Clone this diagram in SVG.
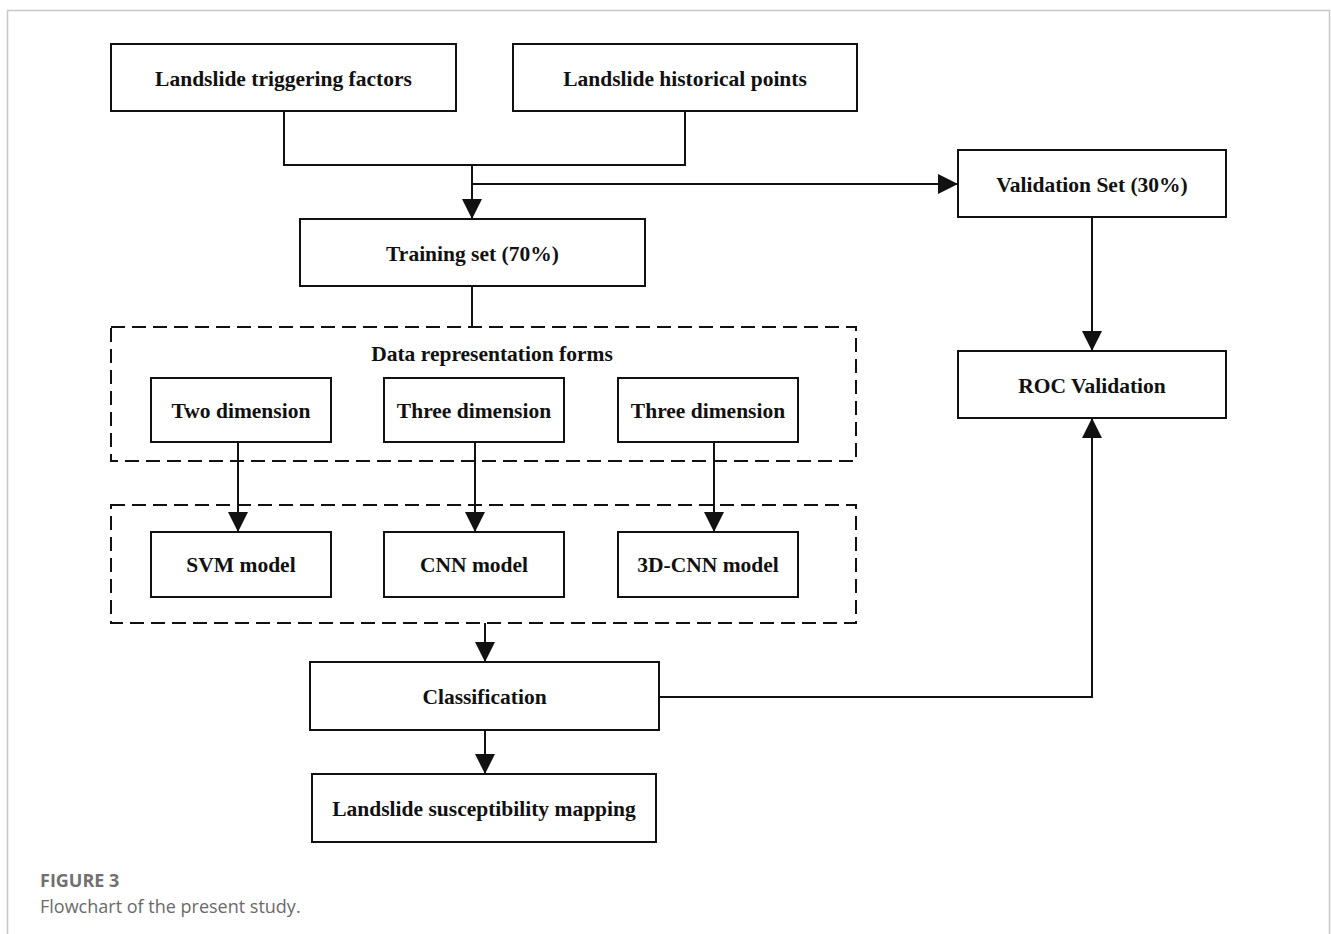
<svg xmlns="http://www.w3.org/2000/svg" width="1331" height="934" viewBox="0 0 1331 934">
<defs>
<style>
.box{fill:#fff;stroke:#111;stroke-width:2}
.dash{fill:none;stroke:#111;stroke-width:2;stroke-dasharray:14 7}
.lbl{font-family:"Liberation Serif","Times New Roman",serif;font-weight:bold;font-size:21.5px;fill:#111;text-anchor:middle}
.ln{fill:none;stroke:#111;stroke-width:2}
.arr{fill:none;stroke:#111;stroke-width:2;marker-end:url(#ah)}
.cap1{font-family:"Open Sans","Noto Sans",sans-serif;font-weight:bold;font-size:18px;fill:#707070}
.cap2{font-family:"Open Sans","Noto Sans",sans-serif;font-size:18px;fill:#6a6a6a}
</style>
<marker id="ah" markerUnits="userSpaceOnUse" markerWidth="20" markerHeight="20" refX="20" refY="10" orient="auto" viewBox="0 0 20 20">
<path d="M0,0 L20,10 L0,20 z" fill="#111"/>
</marker>
</defs>
<rect width="1331" height="934" fill="#fff"/>
<path d="M7.5,934 V10.5 H1329.5 V934" fill="none" stroke="#c8c8c8" stroke-width="1.5"/>

<g id="connectors">
<path class="ln" d="M284,111 V165 H685 V111"/>
<path class="arr" d="M472,165 V219"/>
<path class="arr" d="M472,184 H958"/>
<path class="ln" d="M472,286 V327"/>
<path class="arr" d="M1092,217 V351"/>
<path class="arr" d="M659,697 H1092 V418"/>
<path class="arr" d="M238,442 V532"/>
<path class="arr" d="M475,442 V532"/>
<path class="arr" d="M714,442 V532"/>
<path class="arr" d="M485,623 V662"/>
<path class="arr" d="M485,730 V774"/>
</g>

<g id="triggering">
<rect class="box" x="111" y="44" width="345" height="67"/>
<text class="lbl" x="283.5" y="85.5">Landslide triggering factors</text>
</g>
<g id="historical">
<rect class="box" x="513" y="44" width="344" height="67"/>
<text class="lbl" x="685" y="85.5">Landslide historical points</text>
</g>
<g id="training">
<rect class="box" x="300" y="219" width="345" height="67"/>
<text class="lbl" x="472.5" y="260.5">Training set (70%)</text>
</g>
<g id="validation">
<rect class="box" x="958" y="150" width="268" height="67"/>
<text class="lbl" x="1092" y="191.5">Validation Set (30%)</text>
</g>
<g id="roc">
<rect class="box" x="958" y="351" width="268" height="67"/>
<text class="lbl" x="1092" y="392.5">ROC Validation</text>
</g>
<g id="forms">
<rect class="dash" x="111" y="327" width="745" height="134"/>
<text class="lbl" x="492" y="361">Data representation forms</text>
</g>
<g id="two-dim">
<rect class="box" x="151" y="378" width="180" height="64"/>
<text class="lbl" x="241" y="418">Two dimension</text>
</g>
<g id="three-dim-1">
<rect class="box" x="384" y="378" width="180" height="64"/>
<text class="lbl" x="474" y="418">Three dimension</text>
</g>
<g id="three-dim-2">
<rect class="box" x="618" y="378" width="180" height="64"/>
<text class="lbl" x="708" y="418">Three dimension</text>
</g>
<g id="models">
<rect class="dash" x="111" y="505" width="745" height="118"/>
</g>
<g id="svm">
<rect class="box" x="151" y="532" width="180" height="65"/>
<text class="lbl" x="241" y="572">SVM model</text>
</g>
<g id="cnn">
<rect class="box" x="384" y="532" width="180" height="65"/>
<text class="lbl" x="474" y="572">CNN model</text>
</g>
<g id="cnn3d">
<rect class="box" x="618" y="532" width="180" height="65"/>
<text class="lbl" x="708" y="572">3D-CNN model</text>
</g>
<g id="classification">
<rect class="box" x="310" y="662" width="349" height="68"/>
<text class="lbl" x="484.5" y="704">Classification</text>
</g>
<g id="mapping">
<rect class="box" x="312" y="774" width="344" height="68"/>
<text class="lbl" x="484" y="816">Landslide susceptibility mapping</text>
</g>

<text class="cap1" x="40" y="887">FIGURE 3</text>
<text class="cap2" x="40" y="913">Flowchart of the present study.</text>
</svg>
